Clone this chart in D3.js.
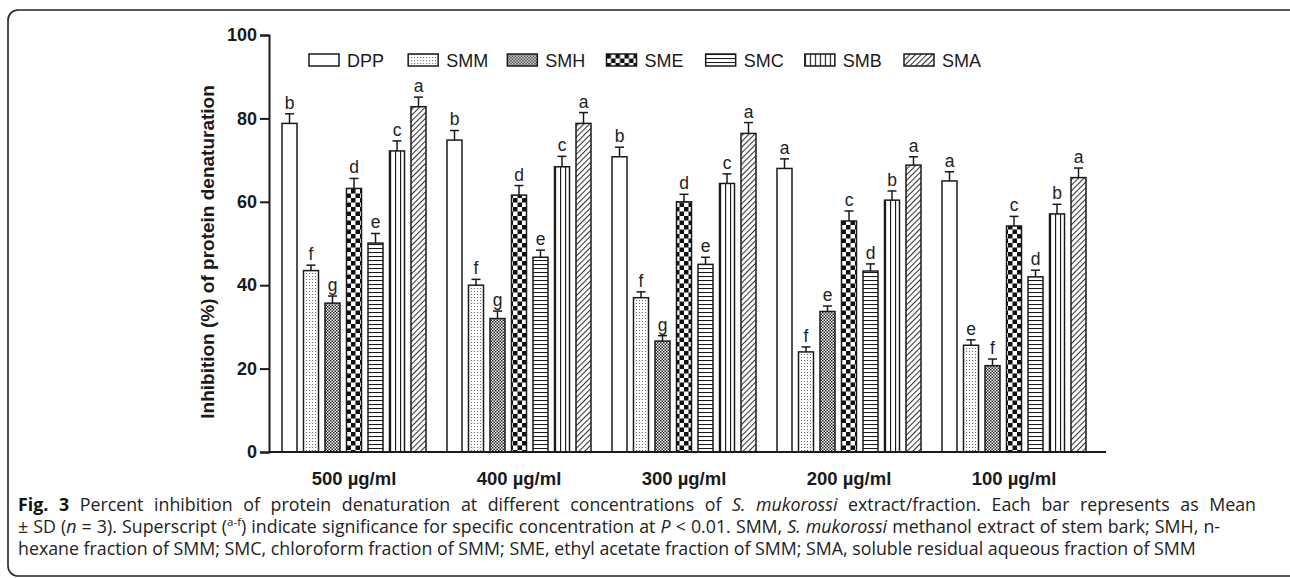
<!DOCTYPE html>
<html>
<head>
<meta charset="utf-8">
<script src="https://cdn.jsdelivr.net/npm/d3@7"></script>
<style>
  html, body { margin: 0; padding: 0; background: #fff; }
  svg { display: block; }
</style>
</head>
<body>
<svg id="fig" width="1290" height="578"></svg>
<script>
// Concentrations (groups) and extract/fraction series
const groups = ["500 µg/ml", "400 µg/ml", "300 µg/ml", "200 µg/ml", "100 µg/ml"];
const series = ["DPP", "SMM", "SMH", "SME", "SMC", "SMB", "SMA"];

// Mean % inhibition per series, one value per concentration
const DPP = [78.8, 74.8, 70.8, 68.0, 65.0];
const SMM = [43.5, 40.0, 37.0, 24.0, 25.6];
const SMH = [35.7, 32.0, 26.6, 33.7, 20.7];
const SME = [63.2, 61.6, 60.0, 55.4, 54.2];
const SMC = [50.1, 46.7, 45.0, 43.4, 42.0];
const SMB = [72.2, 68.4, 64.4, 60.4, 57.1];
const SMA = [82.8, 78.8, 76.4, 68.8, 65.8];

// Standard deviations
const DPP_sd = [2.3, 2.3, 2.3, 2.3, 2.2];
const SMM_sd = [1.3, 1.4, 1.4, 1.2, 1.3];
const SMH_sd = [1.7, 1.8, 1.3, 1.3, 1.6];
const SME_sd = [2.4, 2.3, 1.8, 2.4, 2.3];
const SMC_sd = [2.3, 1.7, 1.7, 1.7, 1.6];
const SMB_sd = [2.4, 2.5, 2.3, 2.2, 2.3];
const SMA_sd = [2.3, 2.6, 2.6, 2.0, 2.3];

// Significance letters
const DPP_sig = ["b", "b", "b", "a", "a"];
const SMM_sig = ["f", "f", "f", "f", "e"];
const SMH_sig = ["g", "g", "g", "e", "f"];
const SME_sig = ["d", "d", "d", "c", "c"];
const SMC_sig = ["e", "e", "e", "d", "d"];
const SMB_sig = ["c", "c", "c", "b", "b"];
const SMA_sig = ["a", "a", "a", "a", "a"];

const yTicks = [0, 20, 40, 60, 80, 100];
const yTitle = "Inhibition (%) of protein denaturation";

const valueTable = { DPP, SMM, SMH, SME, SMC, SMB, SMA };
const sdTable = { DPP: DPP_sd, SMM: SMM_sd, SMH: SMH_sd, SME: SME_sd, SMC: SMC_sd, SMB: SMB_sd, SMA: SMA_sd };
const sigTable = { DPP: DPP_sig, SMM: SMM_sig, SMH: SMH_sig, SME: SME_sig, SMC: SMC_sig, SMB: SMB_sig, SMA: SMA_sig };

const rows = [];
groups.forEach((g, gi) => series.forEach(s => rows.push({
  group: g, series: s, value: valueTable[s][gi], sd: sdTable[s][gi], sig: sigTable[s][gi]
})));

const svg = d3.select("#fig");
const ink = "#1a1a1a";
const sans = "Liberation Sans, Arial, sans-serif";

// ---- fill patterns ----
const defs = svg.append("defs");
function pat(id, w, h, draw) {
  const p = defs.append("pattern").attr("id", id).attr("patternUnits", "userSpaceOnUse")
    .attr("width", w).attr("height", h);
  p.append("rect").attr("width", w).attr("height", h).attr("fill", "#fff");
  draw(p);
}
pat("p-DPP", 4, 4, () => {});
pat("p-SMM", 3, 3, p => {
  p.append("rect").attr("x", 0).attr("y", 0).attr("width", 1).attr("height", 1).attr("fill", "#666");
});
pat("p-SMH", 3, 3, p => {
  p.append("rect").attr("x", 0).attr("y", 0).attr("width", 1.5).attr("height", 1.5).attr("fill", "#222");
  p.append("rect").attr("x", 1.5).attr("y", 1.5).attr("width", 1.5).attr("height", 1.5).attr("fill", "#222");
});
pat("p-SME", 9, 9, p => {
  p.append("rect").attr("x", 0).attr("y", 0).attr("width", 4.5).attr("height", 4.5).attr("fill", "#111");
  p.append("rect").attr("x", 4.5).attr("y", 4.5).attr("width", 4.5).attr("height", 4.5).attr("fill", "#111");
});
pat("p-SMC", 4, 4, p => {
  p.append("line").attr("x1", 0).attr("x2", 4).attr("y1", 0.5).attr("y2", 0.5)
    .attr("stroke", ink).attr("stroke-width", 1.1);
});
pat("p-SMB", 5, 5, p => {
  p.append("line").attr("y1", 0).attr("y2", 5).attr("x1", 0.5).attr("x2", 0.5)
    .attr("stroke", ink).attr("stroke-width", 1.3);
});
pat("p-SMA", 4, 4, p => {
  p.attr("patternTransform", "rotate(45)");
  p.append("line").attr("y1", 0).attr("y2", 4).attr("x1", 0.5).attr("x2", 0.5)
    .attr("stroke", "#333").attr("stroke-width", 1.1);
});

// ---- outer rounded frame ----
svg.append("rect").attr("x", 8).attr("y", 10).attr("width", 1292).attr("height", 566)
  .attr("rx", 10).attr("fill", "none").attr("stroke", "#222").attr("stroke-width", 1.6);

// ---- scales ----
const x0 = d3.scaleBand().domain(groups).range([271.5, 1096.5])
  .paddingInner(21 / 165).paddingOuter(21 / 165 / 2);
const x1 = d3.scaleBand().domain(series).range([0, x0.bandwidth()])
  .paddingInner(6.5 / 21.5).paddingOuter(0);
const y = d3.scaleLinear().domain([0, 100]).range([452, 35]);

const axisX = 269;
const axisEnd = 1106;

// ---- bars ----
const plot = svg.append("g");
plot.selectAll("rect.bar").data(rows).join("rect")
  .attr("class", "bar")
  .attr("x", d => x0(d.group) + x1(d.series))
  .attr("y", d => y(d.value))
  .attr("width", x1.bandwidth())
  .attr("height", d => y(0) - y(d.value))
  .attr("fill", d => `url(#p-${d.series})`)
  .attr("stroke", ink).attr("stroke-width", 1.5);

// error bars (upper half only)
const cx = d => x0(d.group) + x1(d.series) + x1.bandwidth() / 2;
plot.selectAll("line.err").data(rows).join("line")
  .attr("class", "err")
  .attr("x1", cx).attr("x2", cx)
  .attr("y1", d => y(d.value)).attr("y2", d => y(d.value + d.sd))
  .attr("stroke", ink).attr("stroke-width", 1.5);
plot.selectAll("line.cap").data(rows).join("line")
  .attr("class", "cap")
  .attr("x1", d => cx(d) - 4.5).attr("x2", d => cx(d) + 4.5)
  .attr("y1", d => y(d.value + d.sd)).attr("y2", d => y(d.value + d.sd))
  .attr("stroke", ink).attr("stroke-width", 1.5);

// significance letters
plot.selectAll("text.sig").data(rows).join("text")
  .attr("class", "sig")
  .attr("x", cx)
  .attr("y", d => y(d.value + d.sd) - 5)
  .attr("text-anchor", "middle")
  .attr("font-family", sans)
  .attr("font-size", 17.5).attr("fill", "#222")
  .text(d => d.sig);

// ---- y axis ----
const gy = svg.append("g").attr("transform", `translate(${axisX},0)`)
  .call(d3.axisLeft(y).tickValues(yTicks).tickSize(9).tickPadding(3).tickFormat(d3.format("d")));
gy.select(".domain").attr("stroke", ink).attr("stroke-width", 2);
gy.selectAll(".tick line").attr("stroke", ink).attr("stroke-width", 2);
gy.selectAll(".tick text").attr("font-family", sans)
  .attr("font-size", 18).attr("font-weight", "bold").attr("fill", ink);

// ---- x axis ----
svg.append("line").attr("x1", axisX).attr("x2", axisEnd).attr("y1", y(0)).attr("y2", y(0))
  .attr("stroke", ink).attr("stroke-width", 2);
svg.append("g").selectAll("text").data(groups).join("text")
  .attr("x", d => x0(d) + x0.bandwidth() / 2)
  .attr("y", 485)
  .attr("text-anchor", "middle")
  .attr("font-family", sans)
  .attr("font-size", 18.5).attr("font-weight", "bold").attr("fill", ink)
  .text(d => d);

// y title
svg.append("text")
  .attr("transform", `translate(213.5,252) rotate(-90)`)
  .attr("text-anchor", "middle")
  .attr("font-family", sans)
  .attr("font-size", 19).attr("font-weight", "bold").attr("fill", ink)
  .text(yTitle);

// ---- legend ----
const legendX = d3.scalePoint().domain(series).range([309, 904]);
const lg = svg.append("g").selectAll("g").data(series).join("g")
  .attr("transform", d => `translate(${legendX(d)},54)`);
lg.append("rect").attr("width", 30).attr("height", 12)
  .attr("fill", d => `url(#p-${d})`).attr("stroke", ink).attr("stroke-width", 1.5);
lg.append("text").attr("x", 38).attr("y", 12.5)
  .attr("font-family", sans)
  .attr("font-size", 18).attr("fill", ink)
  .text(d => d);

// ---- caption (justified lines) ----
const capFont = "Open Sans, Noto Sans, sans-serif";
const capLines = [
  { y: 511, width: 1238, parts: [
    { t: "Fig. 3", w: "bold" },
    { t: " Percent inhibition of protein denaturation at different concentrations of " },
    { t: "S. mukorossi", i: true },
    { t: " extract/fraction. Each bar represents as Mean" } ] },
  { y: 533, width: 1202, parts: [
    { t: "± SD (" }, { t: "n", i: true }, { t: " = 3). Superscript (" },
    { t: "a-f", sup: true }, { t: ") indicate significance for specific concentration at " },
    { t: "P", i: true }, { t: " < 0.01. SMM, " }, { t: "S. mukorossi", i: true },
    { t: " methanol extract of stem bark; SMH, n-" } ] },
  { y: 555, width: null, parts: [
    { t: "hexane fraction of SMM; SMC, chloroform fraction of SMM; SME, ethyl acetate fraction of SMM; SMA, soluble residual aqueous fraction of SMM" } ] }
];
capLines.forEach(line => {
  const t = svg.append("text").attr("x", 18).attr("y", line.y)
    .attr("font-family", capFont).attr("font-size", 17.8).attr("fill", "#222");
  line.parts.forEach((p, i) => {
    const ts = t.append("tspan").text(p.t);
    if (p.w) ts.attr("font-weight", p.w).attr("fill", "#111");
    if (p.i) ts.attr("font-style", "italic");
    if (p.sup) ts.attr("font-size", 11.5).attr("dy", -7);
    if (i > 0 && line.parts[i - 1].sup) ts.attr("dy", 7);
  });
  if (line.width) {
    const natural = t.node().getComputedTextLength();
    const spaces = line.parts.map(p => p.t).join("").split(" ").length - 1;
    t.attr("word-spacing", Math.max(0, (line.width - natural) / spaces));
  }
});
</script>
</body>
</html>
